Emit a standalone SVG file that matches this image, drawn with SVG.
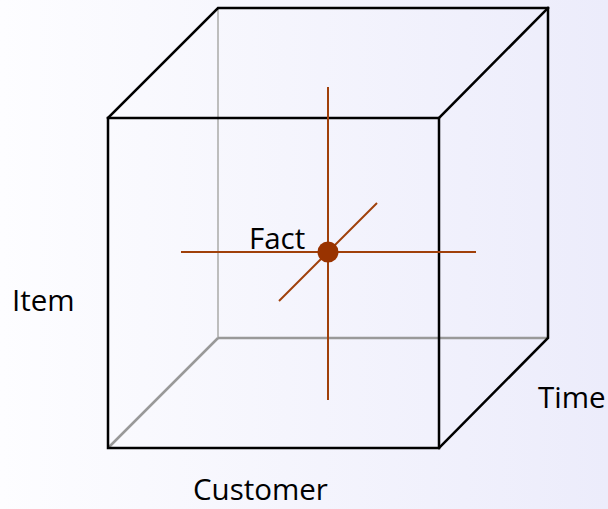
<svg xmlns="http://www.w3.org/2000/svg" width="608" height="509" viewBox="0 0 608 509">
<defs>
<linearGradient id="bg" x1="0" y1="0" x2="1" y2="0">
<stop offset="0" stop-color="#fdfdff"/>
<stop offset="1" stop-color="#ececfb"/>
</linearGradient>
</defs>
<style>
.edge{stroke:#000;stroke-width:2.5;fill:none;stroke-linecap:square}
.back1{stroke:#bdbdbd;stroke-width:2;fill:none}
.back2{stroke:#999;stroke-width:2.5;fill:none}
.axis{stroke:#a0400a;stroke-width:2;fill:none}
.lbl{font-family:"Open Sans","Noto Sans",sans-serif;font-size:29.5px;fill:#000}
</style>
<rect width="608" height="509" fill="url(#bg)"/>
<g id="cube">
<line class="back1" x1="218" y1="8" x2="218" y2="338"/>
<line class="back2" x1="218" y1="338" x2="548" y2="338"/>
<line class="back2" x1="108" y1="448" x2="218" y2="338"/>
<rect class="edge" x="108" y="118" width="331" height="330"/>
<polyline class="edge" points="108,118 218,8 548,8 548,338 439,448"/>
<line class="edge" x1="439" y1="118" x2="548" y2="8"/>
</g>
<g id="connectors">
<line class="axis" x1="328" y1="87" x2="328" y2="400"/>
<line class="axis" x1="181" y1="252" x2="476" y2="252"/>
<line class="axis" x1="279" y1="301" x2="377" y2="203"/>
</g>
<g id="fact">
<circle cx="328" cy="252" r="10.5" fill="#993300"/>
<text class="lbl" x="249" y="249">Fact</text>
</g>
<g id="item"><text class="lbl" x="12" y="311">Item</text></g>
<g id="time"><text class="lbl" x="538" y="408">Time</text></g>
<g id="customer"><text class="lbl" x="193" y="500">Customer</text></g>
</svg>
